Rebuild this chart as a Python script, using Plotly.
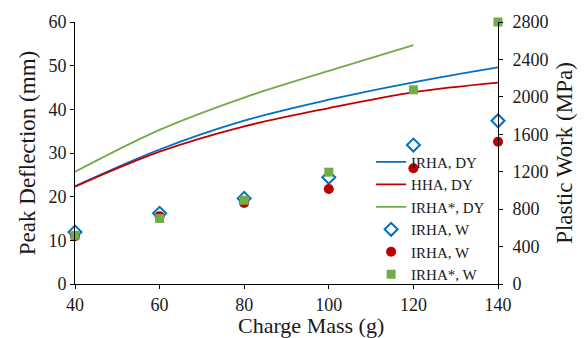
import plotly.graph_objects as go

# Charge mass (g)
mass_dy = [40, 60, 80, 100, 120, 140]
mass_dy_star = [40, 60, 80, 100, 120]
# Peak deflection (mm)
irha_dy = [22.4, 30.8, 37.4, 42.2, 46.2, 49.6]
hha_dy = [22.3, 30.3, 36.1, 40.3, 43.9, 46.1]
irha_star_dy = [25.7, 35.3, 42.7, 48.8, 54.7]
# Plastic work (MPa)
mass_w = [40, 60, 80, 100, 120, 140]
irha_w = [555, 755, 915, 1140, 1485, 1745]
hha_w = [510, 725, 865, 1015, 1237, 1520]
irha_star_w = [520, 700, 895, 1195, 2075, 2800]

FONT = "Liberation Serif, Times New Roman, serif"
BLUE = "#0070C0"
RED = "#C00000"
GREEN = "#70AD47"
TXT = "#1a1a1a"

fig = go.Figure()
fig.add_trace(go.Scatter(x=mass_dy, y=irha_dy, mode="lines", name="IRHA, DY",
                         line=dict(color=BLUE, width=1.8, shape="spline")))
fig.add_trace(go.Scatter(x=mass_dy, y=hha_dy, mode="lines", name="HHA, DY",
                         line=dict(color=RED, width=1.8, shape="spline")))
fig.add_trace(go.Scatter(x=mass_dy_star, y=irha_star_dy, mode="lines", name="IRHA*, DY",
                         line=dict(color=GREEN, width=1.8, shape="spline")))
fig.add_trace(go.Scatter(x=mass_w, y=irha_w, mode="markers", name="IRHA, W", yaxis="y2",
                         cliponaxis=False,
                         marker=dict(symbol="diamond-open", color=BLUE, size=10,
                                     line=dict(width=2, color=BLUE))))
fig.add_trace(go.Scatter(x=mass_w, y=hha_w, mode="markers", name="IRHA, W", yaxis="y2",
                         cliponaxis=False,
                         marker=dict(symbol="circle", color=RED, size=10)))
fig.add_trace(go.Scatter(x=mass_w, y=irha_star_w, mode="markers", name="IRHA*, W", yaxis="y2",
                         cliponaxis=False,
                         marker=dict(symbol="square", color=GREEN, size=9)))

axis_common = dict(showgrid=False, zeroline=False, showline=True, linecolor="black",
                   linewidth=1, ticks="outside", ticklen=4, tickcolor="black",
                   tickfont=dict(family=FONT, size=18, color=TXT))

fig.update_layout(
    width=585, height=338,
    margin=dict(l=75, r=85, t=19, b=54),
    paper_bgcolor="white", plot_bgcolor="white",
    font=dict(family=FONT, color=TXT),
    xaxis=dict(range=[40, 140], tickvals=[40, 60, 80, 100, 120, 140], **axis_common),
    yaxis=dict(range=[0, 60], tickvals=[0, 10, 20, 30, 40, 50, 60],
               title=dict(text="Peak Deflection (mm)", font=dict(family=FONT, size=23, color=TXT),
                          standoff=6),
               **axis_common),
    yaxis2=dict(range=[0, 2800], tickvals=[0, 400, 800, 1200, 1600, 2000, 2400, 2800],
                overlaying="y", side="right", ticklabelstandoff=6,
                title=dict(text="Plastic Work (MPa)", font=dict(family=FONT, size=23, color=TXT),
                           standoff=8),
                **axis_common),
    legend=dict(x=0.70, y=-0.025, xanchor="left", yanchor="bottom",
                bgcolor="rgba(0,0,0,0)", font=dict(family=FONT, size=15, color=TXT),
                tracegroupgap=0, itemwidth=30),
    annotations=[dict(text="Charge Mass (g)", xref="paper", yref="paper",
                      x=0.557, y=0, yshift=-41, xanchor="center", yanchor="middle",
                      showarrow=False, font=dict(family=FONT, size=22, color=TXT))],
    showlegend=True,
)

fig.write_html("out.html", config={"displayModeBar": False},
               post_script="document.body.style.margin='0px';")
